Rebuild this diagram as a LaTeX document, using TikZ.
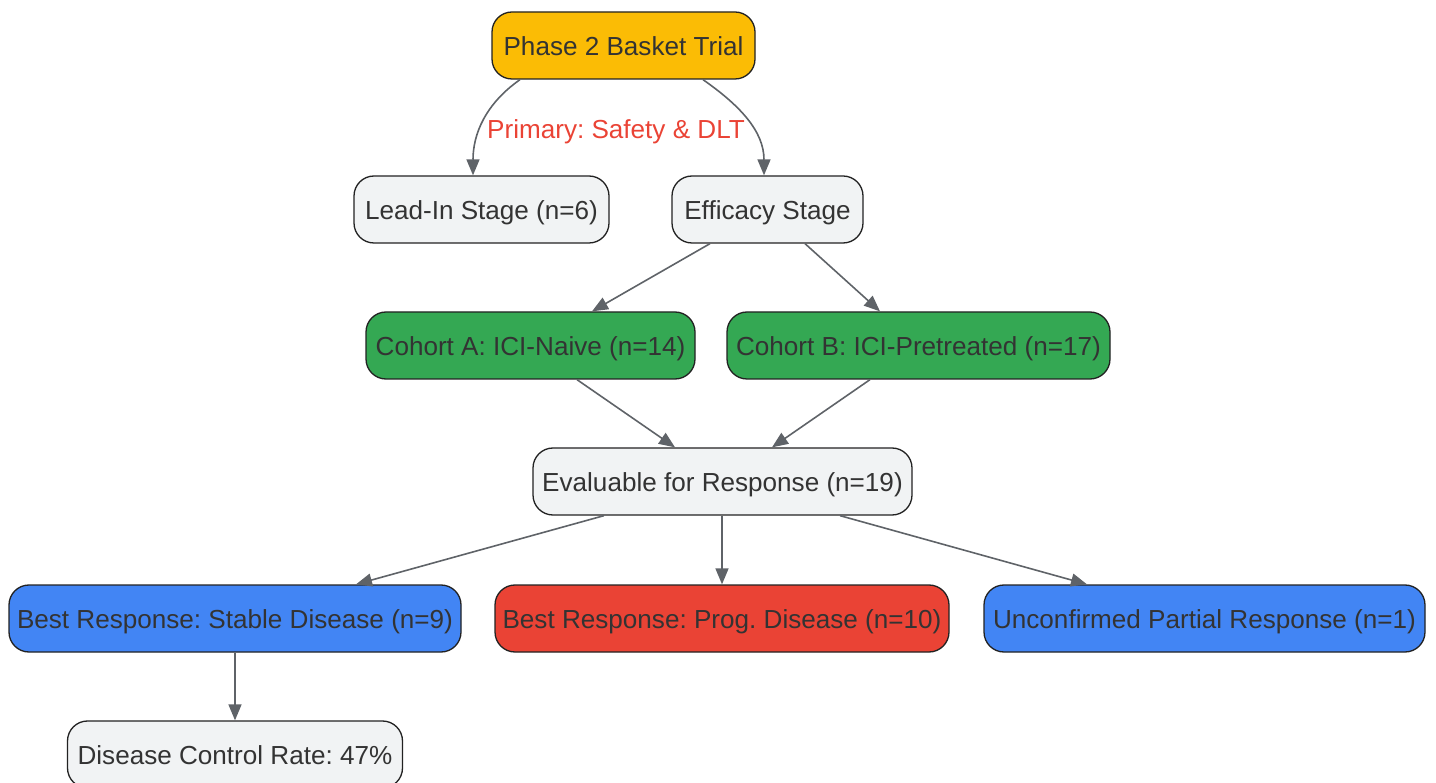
\documentclass[tikz,border=0pt]{standalone}
\usepackage{fontspec}
\setmainfont{Liberation Sans}
\usetikzlibrary{arrows.meta,calc}
\frenchspacing
\definecolor{txt}{HTML}{333333}
\definecolor{edge}{HTML}{5F6368}
\definecolor{gfill}{HTML}{F1F3F4}
\definecolor{yfill}{HTML}{FBBC05}
\definecolor{grfill}{HTML}{34A853}
\definecolor{bfill}{HTML}{4285F4}
\definecolor{rfill}{HTML}{EA4335}
\definecolor{bord}{HTML}{222222}
\tikzset{
  txtfont/.style={font=\fontsize{26.1}{30}\selectfont, text height=25.5pt, text depth=5.5pt},
  box/.style={draw=bord, line width=1.3pt, rounded corners=20pt, inner sep=0pt,
    minimum height=67pt, text=txt, txtfont},
  gbox/.style={box, fill=gfill},
  conn/.style={draw=edge, line width=1.6pt, -{Triangle[length=16pt,width=13pt]}},
}
\begin{document}
\begin{tikzpicture}[x=1pt,y=-1pt]
\useasboundingbox (0,0) rectangle (1436,783);
\node[box, fill=yfill, minimum width=263pt] (phase) at (623.5,45.5) {Phase 2 Basket Trial};
\node[gbox, minimum width=255pt] (lead) at (481.5,209.5) {Lead-In Stage (n=6)};
\node[gbox, minimum width=191pt] (eff) at (767.5,209.5) {Efficacy Stage};
\node[box, fill=grfill, minimum width=329pt] (coha) at (530.5,345.5) {Cohort A: ICI-Naive (n=14)};
\node[box, fill=grfill, minimum width=383pt] (cohb) at (918.5,345.5) {Cohort B: ICI-Pretreated (n=17)};
\node[gbox, minimum width=379pt] (eval) at (722.5,481.5) {Evaluable for Response (n=19)};
\node[box, fill=bfill, minimum width=452pt] (sd) at (235,618.5) {Best Response: Stable Disease (n=9)};
\node[box, fill=rfill, minimum width=454pt] (pd) at (722,618.5) {Best Response: Prog. Disease (n=10)};
\node[box, fill=bfill, minimum width=441pt] (pr) at (1204.5,618.5) {Unconfirmed Partial Response (n=1)};
\node[gbox, minimum width=335pt] (dcr) at (235,754.5) {Disease Control Rate: 47\%};
\node[text=rfill, txtfont, inner sep=0pt] (lbl) at (616,129) {Primary: Safety \& DLT};
\draw[conn] ([xshift=-103.5pt]phase.south) to[out=215,in=90] ([xshift=-8.5pt]lead.north);
\draw[conn] ([xshift=79.5pt]phase.south) to[out=-35,in=90] ([xshift=-3.5pt]eff.north);
\draw[conn] ([xshift=-57.5pt]eff.south) -- ([xshift=61.5pt]coha.north);
\draw[conn] ([xshift=37.5pt]eff.south) -- ([xshift=-38.5pt]cohb.north);
\draw[conn] ([xshift=46.5pt]coha.south) -- ([xshift=-47.5pt]eval.north);
\draw[conn] ([xshift=-48.5pt]cohb.south) -- ([xshift=49.5pt]eval.north);
\draw[conn] ([xshift=-118.5pt]eval.south) -- ([xshift=121pt]sd.north);
\draw[conn] ([xshift=-0.5pt]eval.south) -- (pd.north);
\draw[conn] ([xshift=117.5pt]eval.south) -- ([xshift=-117.5pt]pr.north);
\draw[conn] (sd.south) -- (dcr.north);
\end{tikzpicture}
\end{document}
